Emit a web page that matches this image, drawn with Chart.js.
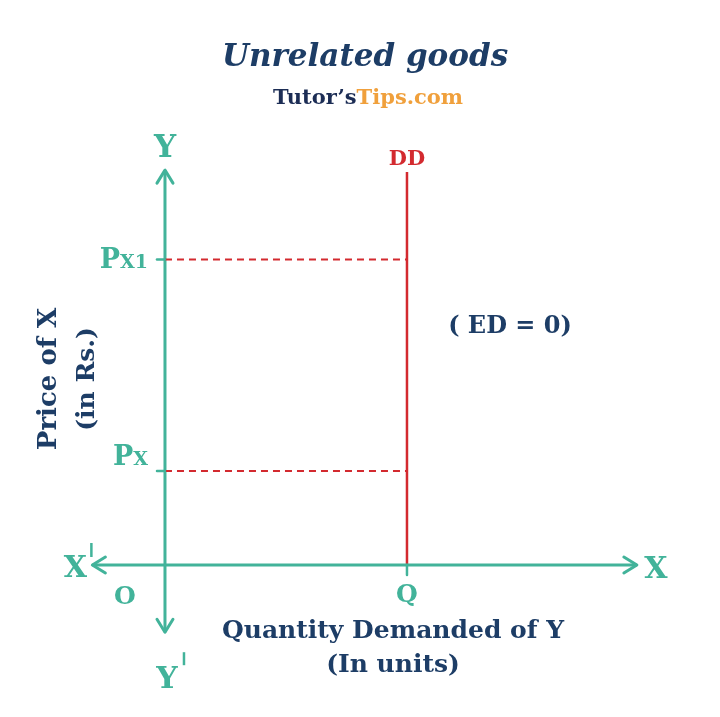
<!DOCTYPE html>
<html>
<head>
<meta charset="utf-8">
<title>Unrelated goods</title>
<script src="https://cdn.jsdelivr.net/npm/chart.js@4.4.1/dist/chart.umd.min.js"></script>
<style>
  html, body { margin: 0; padding: 0; background: #ffffff; }
  #grafico { display: block; }
</style>
</head>
<body>
<canvas id="grafico" width="720" height="717"></canvas>
<script>
// ─── Dados do diagrama ─────────────────────────────────────────
const eixoQuantidade = [-1.2, 7.8];   // X' ... X
const eixoPreco      = [-1.43, 8.4];  // Y' ... Y
const quantidadeQ    = 4;             // Q
const topoDD         = 8.36;          // ponta da curva DD
const precos         = [2, 6.5];      // Px, Px1
const rotulosPreco   = [['P', 'X'], ['P', 'X1']];

// ─── Cores ─────────────────────────────────────────────────────
const verde  = '#42b39a';
const azul   = '#1d3d66';
const vermelho = '#d32a2f';
const laranja  = '#f0a03c';
const serif  = '"DejaVu Serif", "Liberation Serif", serif';

// linhas de referência (tracejadas) de cada preço até DD
const tracejados = precos.map(p => ({
  data: [{ x: 0, y: p }, { x: quantidadeQ, y: p }],
  borderColor: vermelho, borderWidth: 2, borderDash: [7, 5]
}));

// ─── Plugin que escreve os textos e as setas ───────────────────
const textos = {
  id: 'textos',
  afterDatasetsDraw(chart) {
    const { ctx, scales: { x, y } } = chart;
    const px = v => x.getPixelForValue(v);
    const py = v => y.getPixelForValue(v);

    function texto(t, cx, base, font, cor, align = 'center') {
      ctx.font = font;
      ctx.fillStyle = cor;
      ctx.textAlign = align;
      ctx.textBaseline = 'alphabetic';
      ctx.fillText(t, cx, base);
    }

    ctx.save();

    // setas abertas nas pontas dos eixos
    ctx.strokeStyle = verde;
    ctx.lineWidth = 3;
    ctx.lineCap = 'round';
    ctx.lineJoin = 'round';
    const seta = (tx, ty, dx, dy) => {
      // dx,dy = direção da seta
      const L = 13, W = 8;
      ctx.beginPath();
      ctx.moveTo(tx - dx * L - dy * W, ty - dy * L - dx * W);
      ctx.lineTo(tx, ty);
      ctx.lineTo(tx - dx * L + dy * W, ty - dy * L + dx * W);
      ctx.stroke();
    };
    seta(px(0), py(eixoPreco[1]), 0, -1);
    seta(px(0), py(eixoPreco[0]), 0, 1);
    seta(px(eixoQuantidade[1]), py(0), 1, 0);
    seta(px(eixoQuantidade[0]), py(0), -1, 0);

    // marcas nos preços e em Q
    ctx.lineWidth = 2.5;
    precos.forEach(p => {
      ctx.beginPath();
      ctx.moveTo(px(0) - 8, py(p));
      ctx.lineTo(px(0), py(p));
      ctx.stroke();
    });
    ctx.beginPath();
    ctx.moveTo(px(quantidadeQ), py(0));
    ctx.lineTo(px(quantidadeQ), py(0) + 10);
    ctx.stroke();

    // marca "linha" (X', Y')
    ctx.lineWidth = 2.5;
    ctx.lineCap = 'butt';
    const linha = (lx, y0, y1) => {
      ctx.beginPath();
      ctx.moveTo(lx, y0);
      ctx.lineTo(lx, y1);
      ctx.stroke();
    };
    linha(px(eixoQuantidade[0]) - 1, py(0) - 22, py(0) - 8);
    linha(px(0) + 19, py(eixoPreco[0]) + 20, py(eixoPreco[0]) + 33);

    // título
    texto('Unrelated goods', 365, 66, 'italic bold 31px ' + serif, azul);
    ctx.font = 'bold 21px ' + serif;
    const w1 = ctx.measureText('Tutor\u2019s').width;
    const w2 = ctx.measureText('Tips.com').width;
    const ini = 368 - (w1 + w2) / 2;
    texto('Tutor\u2019s', ini, 104, 'bold 21px ' + serif, '#1c2d55', 'left');
    texto('Tips.com', ini + w1, 104, 'bold 21px ' + serif, laranja, 'left');

    // eixos
    texto('Y', px(0), 157, 'bold 31px ' + serif, verde);
    texto('X', px(eixoQuantidade[1]) + 19, py(0) + 13, 'bold 30px ' + serif, verde);
    texto('X', px(eixoQuantidade[0]) - 17, py(0) + 12, 'bold 30px ' + serif, verde);
    texto('Y', px(0) + 2, py(eixoPreco[0]) + 56, 'bold 30px ' + serif, verde);
    texto('O', px(0) - 40, py(0) + 39, 'bold 25px ' + serif, verde);
    texto('Q', px(quantidadeQ), py(0) + 37, 'bold 25px ' + serif, verde);
    texto('DD', px(quantidadeQ), py(topoDD) - 7, 'bold 21px ' + serif, vermelho);

    // rótulos dos preços
    const deslocBase = [-6, 9];
    precos.forEach((p, i) => {
      const [a, b] = rotulosPreco[i];
      ctx.font = 'bold 19px ' + serif;
      const wb = ctx.measureText(b).width;
      const dir = px(0) - 17;
      texto(b, dir, py(p) + deslocBase[i], 'bold 19px ' + serif, verde, 'right');
      texto(a, dir - wb, py(p) + deslocBase[i], 'bold 27px ' + serif, verde, 'right');
    });

    // elasticidade
    texto('( ED = 0)', 510, 333, 'bold 24px ' + serif, azul);

    // títulos dos eixos
    texto('Quantity Demanded of Y', 393, 638, 'bold 25px ' + serif, azul);
    texto('(In units)', 393, 672, 'bold 25px ' + serif, azul);

    ctx.translate(0, 379);
    ctx.rotate(-Math.PI / 2);
    texto('Price of X', 0, 56, 'bold 26px ' + serif, azul);
    texto('(in Rs.)', 0, 94, 'bold 25px ' + serif, azul);

    ctx.restore();
  }
};

// ─── Gráfico ───────────────────────────────────────────────────
new Chart(document.getElementById('grafico'), {
  type: 'scatter',
  data: {
    datasets: [
      ...tracejados,
      {
        data: [{ x: 0, y: eixoPreco[0] }, { x: 0, y: eixoPreco[1] }],
        borderColor: verde, borderWidth: 3
      },
      {
        data: [{ x: eixoQuantidade[0], y: 0 }, { x: eixoQuantidade[1], y: 0 }],
        borderColor: verde, borderWidth: 3
      },
      {
        data: [{ x: quantidadeQ, y: 0 }, { x: quantidadeQ, y: topoDD }],
        borderColor: vermelho, borderWidth: 2.5
      }
    ]
  },
  options: {
    responsive: false,
    animation: false,
    showLine: true,
    layout: { padding: 0 },
    elements: { point: { radius: 0, hoverRadius: 0 } },
    scales: {
      x: { type: 'linear', display: false, min: -2.727, max: 9.174 },
      y: { type: 'linear', display: false, min: -3.234, max: 12.02 }
    },
    plugins: {
      legend: { display: false },
      tooltip: { enabled: false }
    },
    events: []
  },
  plugins: [textos]
});
</script>
</body>
</html>
